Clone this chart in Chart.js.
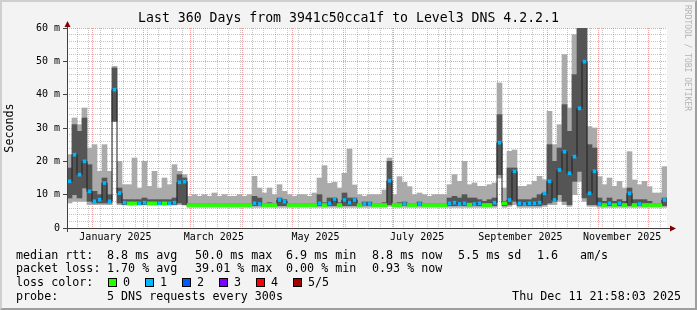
<!doctype html>
<html>
<head>
<meta charset="utf-8">
<title>Smokeping - 360 days</title>
<script src="https://cdn.jsdelivr.net/npm/chart.js@4/dist/chart.umd.min.js"></script>
<style>
	body { margin: 0; background: #f3f3f3; }
	#wrap { position: relative; width: 697px; height: 310px; background: #f3f3f3; font-family: "DejaVu Sans Mono", monospace; overflow: hidden; }
	#wrap canvas { position: absolute; left: 0; top: 0; }
	.t { position: absolute; white-space: pre; font-size: 11.7px; line-height: 14px; color: #000; }
	.box { position: absolute; width: 7px; height: 7px; border: 1px solid #000; top: 278px; }
	#frame { position: absolute; left: 0; top: 0; width: 697px; height: 310px; box-sizing: border-box; border: 2px solid; border-color: #cfcfcf #9e9e9e #9e9e9e #cfcfcf; pointer-events: none; }
	#mark { position: absolute; left: 682px; top: 5px; writing-mode: vertical-rl; font-size: 8px; line-height: 10px; color: #b4b4b4; white-space: pre; }
</style>
</head>
<body>
<div id="wrap">
	<canvas id="chart-area" width="697" height="310"></canvas>
	<div id="mark">RRDTOOL / TOBI OETIKER</div>

	<div class="t" style="left:16px;top:248px">median rtt:</div>
	<div class="t" style="left:107px;top:248px">8.8 ms avg</div>
	<div class="t" style="left:195px;top:248px">50.0 ms max</div>
	<div class="t" style="left:286px;top:248px">6.9 ms min</div>
	<div class="t" style="left:372px;top:248px">8.8 ms now</div>
	<div class="t" style="left:458px;top:248px">5.5 ms sd</div>
	<div class="t" style="left:537px;top:248px">1.6</div>
	<div class="t" style="left:580px;top:248px">am/s</div>

	<div class="t" style="left:16px;top:261px">packet loss:</div>
	<div class="t" style="left:107px;top:261px">1.70 % avg</div>
	<div class="t" style="left:195px;top:261px">39.01 % max</div>
	<div class="t" style="left:286px;top:261px">0.00 % min</div>
	<div class="t" style="left:372px;top:261px">0.93 % now</div>

	<div class="t" style="left:16px;top:275px">loss color:</div>
	<div id="losskey"></div>

	<div class="t" style="left:16px;top:289px">probe:</div>
	<div class="t" style="left:107px;top:289px">5 DNS requests every 300s</div>
	<div class="t" style="right:16px;top:289px">Thu Dec 11 21:58:03 2025</div>

	<div id="frame"></div>
</div>

<script>
	// one bin = 3 days, 120 bins over the 360 day window (values in ms)
	var binDays = 3;

	// top of the smoke (slowest ping)
	var smokeMax = [
		22, 33, 31, 36, 24, 25, 17, 25, 17, 48.5,
		20, 13, 13, 21, 12, 20, 12.5, 17, 12, 15,
		13, 19, 17, 16, 9.5, 10, 9.5, 10, 9.5, 10.5,
		9.5, 10, 9.5, 9.5, 10, 9.5, 10, 15.5, 12, 10.5,
		12, 10, 13, 11, 10, 9.5, 10, 10, 9.5, 10.5,
		15, 18.7, 13.4, 13.7, 12, 16.4, 23.7, 12.9, 10, 9.5,
		10, 10, 10, 11.4, 21, 10, 15.4, 13.7, 12.4, 10,
		10.5, 10, 9.5, 10, 10, 10, 13, 16, 14, 20,
		13, 13.5, 12.5, 12.5, 13, 13.5, 43.5, 12, 23, 23.4,
		12.5, 12.5, 13, 14, 15.5, 14.5, 35, 25, 31, 52,
		36, 58, 60, 60, 30.4, 30, 15.4, 13, 15, 12.5,
		14, 12, 22.9, 14.4, 13, 14, 12.4, 10.5, 10.5, 18.4
	];
	// dense part of the smoke
	var coreHigh = [
		18, 31, 29, 33, 19, 11, 10, 15, 10, 48,
		12, 8.5, 8.5, 8.5, 8.5, 9, 8.5, 8.5, 8.5, 8.5,
		8.5, 9, 16, 15, 7.3, 7.3, 7.3, 7.3, 7.3, 7.3,
		7.3, 7.3, 7.3, 7.3, 7.3, 7.3, 7.3, 9.5, 9, 7.3,
		7.6, 7.3, 9, 8.5, 7.3, 7.3, 7.3, 7.3, 7.3, 7.3,
		10, 7.6, 9, 9, 7.6, 10.5, 9, 9, 7.3, 7.8,
		7.8, 7.3, 7.3, 7.6, 20, 7.3, 7.6, 7.8, 7.3, 7.3,
		7.8, 7.3, 7.3, 7.3, 7.3, 7.3, 9, 9.5, 9, 10,
		9, 9, 8.5, 8, 8.5, 9, 34, 8, 18, 18,
		8.5, 8.5, 8.5, 9, 10, 10.5, 25, 20, 24, 37,
		29, 46, 60, 60, 25, 24, 9, 8, 9, 8,
		8.5, 8, 12, 8.5, 8.5, 8.5, 8, 7.3, 7.3, 9
	];
	var coreLow = [
		9, 10, 9, 12, 8, 7.5, 7.5, 7.5, 7.5, 32,
		7.5, 7, 7, 7, 7, 7, 7, 7, 7, 7,
		7, 7, 7.5, 7, 6.7, 6.7, 6.7, 6.7, 6.7, 6.7,
		6.7, 6.7, 6.7, 6.7, 6.7, 6.7, 6.7, 6.7, 6.7, 6.7,
		6.7, 6.7, 6.7, 6.7, 6.7, 6.7, 6.7, 6.7, 6.7, 6.7,
		6.7, 6.7, 6.7, 6.7, 6.7, 6.7, 6.7, 6.7, 6.7, 6.7,
		6.7, 6.7, 6.7, 6.7, 7, 6.7, 6.7, 6.7, 6.7, 6.7,
		6.7, 6.7, 6.7, 6.7, 6.7, 6.7, 6.7, 6.7, 6.7, 6.7,
		6.7, 6.7, 6.7, 6.7, 6.7, 6.7, 16, 6.7, 7, 8,
		6.7, 6.7, 6.7, 6.7, 6.7, 7, 7.5, 8, 10, 8,
		7, 14, 17, 9, 7, 7, 6.7, 6.7, 6.7, 6.7,
		6.7, 6.7, 6.7, 6.7, 6.7, 6.7, 6.7, 6.7, 6.7, 6.7
	];
	// bottom of the smoke (fastest ping)
	var smokeMin = [
		7.5, 8, 8, 8, 7, 7, 7, 7, 7, 32,
		7, 6.9, 6.9, 6.9, 6.9, 6.9, 6.9, 6.9, 6.9, 6.9,
		6.9, 6.9, 7, 6.9, 6.2, 6.2, 6.2, 6.2, 6.2, 6.2,
		6.2, 6.2, 6.2, 6.2, 6.2, 6.2, 6.2, 6.2, 6.2, 6.2,
		6.2, 6.2, 6.2, 6.2, 6.2, 6.2, 6.2, 6.2, 6.2, 6.2,
		6.2, 6.2, 6.2, 6.2, 6.2, 6.2, 6.2, 6.2, 6.2, 6.2,
		6.2, 6.2, 6.2, 6.2, 6.5, 6.2, 6.2, 6.2, 6.2, 6.2,
		6.2, 6.2, 6.2, 6.2, 6.2, 6.2, 6.2, 6.2, 6.2, 6.2,
		6.2, 6.2, 6.2, 6.2, 6.2, 6.2, 15, 6.2, 6.5, 7,
		6.2, 6.2, 6.2, 6.2, 6.2, 6.5, 7, 7, 8, 7,
		6.5, 10, 14, 8, 6.5, 6.5, 6.2, 6.2, 6.2, 6.2,
		6.2, 6.2, 6.2, 6.2, 6.2, 6.2, 6.2, 6.2, 6.2, 6.2
	];
	var medianRtt = [
		14, 22, 16, 20, 11, 8, 8.5, 13.5, 8, 41.5,
		10.5, 7.6, 7.4, 7.4, 7.4, 7.6, 7.4, 7.4, 7.4, 7.4,
		7.4, 7.6, 13.7, 13.9, 6.9, 6.9, 6.9, 6.9, 6.9, 6.9,
		6.9, 6.9, 6.9, 6.9, 6.9, 6.9, 6.9, 7.4, 7.2, 6.9,
		6.9, 6.9, 8.4, 7.9, 6.9, 6.9, 6.9, 6.9, 6.9, 6.9,
		7.4, 6.9, 7.4, 8.7, 6.9, 8.4, 7.6, 8.4, 6.9, 7.2,
		7.2, 6.9, 6.9, 6.9, 14.2, 6.9, 6.9, 7.2, 6.9, 6.9,
		7.2, 6.9, 6.9, 6.9, 6.9, 6.9, 7.4, 7.6, 7.2, 7.4,
		7.0, 7.2, 7.4, 6.9, 6.9, 7.6, 25.6, 7.4, 8.4, 17,
		7.4, 7.2, 7.4, 7.4, 7.6, 10.4, 14, 8.4, 17.4, 22.9,
		16.4, 21.4, 35.9, 49.9, 10.4, 17, 7.2, 6.9, 7.4, 6.9,
		7.4, 6.9, 10.4, 6.9, 7.2, 6.9, 6.9, 6.9, 6.9, 8.4
	];
	// lost pings out of 5
	var lostPings = [
		1, 1, 1, 1, 1, 1, 1, 1, 1, 1,
		1, 1, 0, 0, 1, 1, 0, 0, 1, 0,
		1, 1, 1, 1, 0, 0, 0, 0, 0, 0,
		0, 0, 0, 0, 0, 0, 0, 1, 1, 0,
		0, 0, 1, 1, 0, 0, 0, 0, 0, 0,
		1, 0, 1, 1, 0, 1, 1, 1, 0, 1,
		1, 0, 0, 0, 1, 0, 0, 1, 0, 0,
		1, 0, 0, 0, 0, 0, 1, 1, 1, 1,
		0, 1, 1, 0, 0, 1, 1, 0, 1, 1,
		1, 1, 1, 1, 1, 1, 1, 1, 1, 1,
		1, 1, 1, 1, 1, 1, 1, 0, 1, 0,
		1, 0, 1, 0, 1, 0, 0, 0, 0, 1
	];

	var lossColors = ['#26ff00', '#00b8ff', '#0059ff', '#7e00ff', '#ff0000', '#a10000'];
	var lossLabels = ['0', '1', '2', '3', '4', '5/5'];

	var monthNames = ['January', 'February', 'March', 'April', 'May', 'June', 'July',
		'August', 'September', 'October', 'November', 'December'];
	var labelMonths = [0, 2, 4, 6, 8, 10];

	// legend swatches
	var key = document.getElementById('losskey');
	lossLabels.forEach(function (lbl, i) {
		var b = document.createElement('div');
		b.className = 'box';
		b.style.left = (108 + i * 37) + 'px';
		b.style.background = lossColors[i];
		key.appendChild(b);
		var t = document.createElement('div');
		t.className = 't';
		t.style.left = (123 + i * 37) + 'px';
		t.style.top = '275px';
		t.textContent = lbl;
		key.appendChild(t);
	});

	// time axis: days since the start of the window
	var startMs = Date.UTC(2024, 11, 16, 22, 0);
	var DAY = 86400000;
	function dayOf(ms) { return (ms - startMs) / DAY; }

	var xTicks = [];
	var monthDays = [];
	for (var m = 0; m < 12; m++) {
		var d = dayOf(Date.UTC(2025, m, 1));
		monthDays.push(d);
		xTicks.push({ v: d, kind: 'month', label: '' });
	}
	for (var w = Date.UTC(2024, 11, 23); dayOf(w) < 360; w += 7 * DAY) {
		var wd = dayOf(w);
		if (monthDays.some(function (md) { return Math.abs(md - wd) < 0.01; })) continue;
		xTicks.push({ v: wd, kind: 'week', label: '' });
	}
	labelMonths.forEach(function (m) {
		xTicks.push({ v: dayOf(Date.UTC(2025, m, 15)), kind: 'label', label: monthNames[m] + ' 2025' });
	});
	xTicks.sort(function (a, b) { return a.v - b.v; });

	var xs = smokeMax.map(function (_, i) { return i * binDays + binDays / 2; });
	function band(lo, hi) {
		return xs.map(function (x, i) { return { x: x, y: [lo[i], hi[i]] }; });
	}
	function medMarks(test) {
		var out = [];
		xs.forEach(function (x, i) {
			if (test(lostPings[i])) out.push({ x: x, y: [medianRtt[i] - 0.45, medianRtt[i] + 0.45] });
		});
		return out;
	}
	var lossMarkColors = [];
	lostPings.forEach(function (l) { if (l > 0) lossMarkColors.push(lossColors[l]); });

	var gridRed = 'rgba(222,80,80,0.55)';
	var gridGray = 'rgba(140,140,140,0.5)';
	var mono = '"DejaVu Sans Mono", monospace';

	var frame = {
		id: 'frame',
		beforeDraw: function (chart) {
			var c = chart.ctx, a = chart.chartArea;
			c.save();
			c.fillStyle = '#f3f3f3';
			c.fillRect(0, 0, chart.width, chart.height);
			c.fillStyle = '#ffffff';
			c.fillRect(a.left, a.top, a.right - a.left, a.bottom - a.top);
			c.restore();
		},
		afterDatasetsDraw: function (chart) {
			var c = chart.ctx, a = chart.chartArea;
			c.save();
			c.strokeStyle = '#404040';
			c.lineWidth = 1;
			c.beginPath();
			c.moveTo(a.left - 4, a.bottom + 0.5);
			c.lineTo(a.right + 3, a.bottom + 0.5);
			c.moveTo(a.left + 0.5, a.bottom + 4);
			c.lineTo(a.left + 0.5, a.top - 3);
			c.stroke();
			c.fillStyle = '#800000';
			c.beginPath();
			c.moveTo(a.left - 2.5, a.top - 1);
			c.lineTo(a.left + 3.5, a.top - 1);
			c.lineTo(a.left + 0.5, a.top - 7);
			c.closePath();
			c.fill();
			c.beginPath();
			c.moveTo(a.right + 3, a.bottom - 2.5);
			c.lineTo(a.right + 3, a.bottom + 3.5);
			c.lineTo(a.right + 9, a.bottom + 0.5);
			c.closePath();
			c.fill();
			c.restore();
		}
	};

	var ctx = document.getElementById('chart-area').getContext('2d');
	new Chart(ctx, {
		type: 'bar',
		data: {
			datasets: [
				{ label: 'smoke', data: band(smokeMin, smokeMax), backgroundColor: '#aaaaaa', order: 5 },
				{ label: 'smoke core', data: band(coreLow, coreHigh), backgroundColor: '#555555', order: 4 },
				{
					type: 'line', label: 'median', order: 3,
					data: xs.map(function (x, i) { return { x: x, y: medianRtt[i] }; }),
					borderColor: '#202020', borderWidth: 1, pointRadius: 0, stepped: 'middle'
				},
				{ label: 'median, no loss', data: medMarks(function (l) { return l === 0; }), backgroundColor: lossColors[0], order: 2 },
				{ label: 'median, loss', data: medMarks(function (l) { return l > 0; }), backgroundColor: lossMarkColors, barThickness: 3, order: 1 }
			]
		},
		options: {
			responsive: false,
			animation: false,
			devicePixelRatio: 1,
			events: [],
			layout: { padding: 0 },
			datasets: {
				bar: { grouped: false, barThickness: 5, borderWidth: 0 }
			},
			plugins: {
				legend: { display: false },
				tooltip: { enabled: false },
				title: {
					display: true,
					text: 'Last 360 Days from 3941c50cca1f to Level3 DNS 4.2.2.1',
					color: '#000',
					font: { family: mono, size: 13.2, weight: 'normal', lineHeight: '16px' },
					padding: { top: 11, bottom: 1 }
				}
			},
			scales: {
				x: {
					type: 'linear', min: 0, max: 360, offset: false,
					afterBuildTicks: function (ax) { ax.ticks = xTicks.map(function (t) { return { value: t.v }; }); },
					afterFit: function (ax) { ax.height = 82; },
					grid: {
						offset: false, drawTicks: false,
						color: function (c) {
							var t = xTicks[c.index];
							if (!t || t.kind === 'label') return 'rgba(0,0,0,0)';
							return t.kind === 'month' ? gridRed : gridGray;
						}
					},
					border: { display: false, dash: [1, 1] },
					ticks: {
						autoSkip: false, maxRotation: 0, minRotation: 0, padding: 3,
						color: '#000', font: { family: mono, size: 10 },
						callback: function (v, i) { return xTicks[i] ? xTicks[i].label : ''; }
					}
				},
				y: {
					type: 'linear', min: 0, max: 60,
					afterFit: function (ax) { ax.width = 67; },
					grid: {
						tickLength: 4,
						color: function (c) { return c.tick && c.tick.value % 10 === 0 ? gridRed : gridGray; },
						tickColor: function (c) { return c.tick && c.tick.value % 10 === 0 ? '#404040' : 'rgba(0,0,0,0)'; }
					},
					border: { display: false, dash: [1, 1] },
					ticks: {
						stepSize: 2, autoSkip: false, padding: 3,
						color: '#000', font: { family: mono, size: 10 },
						callback: function (v) { return v % 10 === 0 ? (v === 0 ? '0' : v + ' m') : ''; }
					},
					title: {
						display: true, text: 'Seconds', color: '#000',
						font: { family: mono, size: 11.7 },
						padding: { top: 3, bottom: 0 }
					}
				},
				// empty right margin (arrow + watermark space)
				yr: {
					type: 'linear', position: 'right', min: 0, max: 60,
					afterFit: function (ax) { ax.width = 30; },
					grid: { display: false },
					border: { display: false },
					ticks: { display: false }
				}
			}
		},
		plugins: [frame]
	});
</script>
</body>
</html>
